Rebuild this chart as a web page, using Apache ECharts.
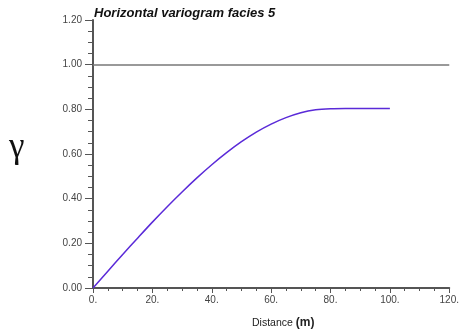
<!DOCTYPE html>
<html>
<head>
<meta charset="utf-8">
<script src="https://cdn.jsdelivr.net/npm/echarts@6/dist/echarts.min.js"></script>
<style>
  html, body { margin: 0; padding: 0; background: #fff; }
  #chart { width: 462px; height: 335px; }
</style>
</head>
<body>
<div id="chart"></div>
<script>
// Lag distances (m) and the modelled semivariance at each lag
const distance = [0, 5, 10, 15, 20, 25, 30, 35, 40, 45, 50, 55, 60, 65, 70, 75, 80, 85, 90, 95, 100];
const gammaValues = [0.000, 0.075, 0.150, 0.223, 0.295, 0.364, 0.430, 0.493, 0.552, 0.606, 0.655, 0.698, 0.734, 0.763, 0.785, 0.798, 0.803, 0.804, 0.804, 0.804, 0.804];
// Reference sill line
const sill = 1.0;
const titleText = 'Horizontal variogram facies 5';

const chart = echarts.init(document.getElementById('chart'), null, { renderer: 'canvas' });

const seriesData = distance.map((d, i) => [d, gammaValues[i]]);
const labelFont = 'Liberation Sans, Arial, Helvetica, sans-serif';

chart.setOption({
  animation: false,
  backgroundColor: '#ffffff',
  grid: { left: 93, right: 9, top: 20, bottom: 47, containLabel: false },
  title: {
    text: titleText,
    left: 89, top: 2,
    textStyle: { fontFamily: labelFont, fontSize: 13, fontWeight: 'bold', fontStyle: 'italic', color: '#111' }
  },
  xAxis: {
    type: 'value', min: 0, max: 120, interval: 20,
    axisLine: { show: true, lineStyle: { color: '#555', width: 2 } },
    axisTick: { show: true, length: 5, lineStyle: { color: '#555', width: 1 } },
    minorTick: { show: true, splitNumber: 4, length: 3, lineStyle: { color: '#555', width: 1 } },
    splitLine: { show: false },
    axisLabel: {
      margin: 7, fontSize: 10, color: '#444', fontFamily: labelFont,
      formatter: v => v.toFixed(0) + '.'
    }
  },
  yAxis: {
    type: 'value', min: 0, max: 1.2, interval: 0.2,
    axisLine: { show: true, lineStyle: { color: '#555', width: 2 } },
    axisTick: { show: true, length: 8, lineStyle: { color: '#555', width: 1 } },
    minorTick: { show: true, splitNumber: 4, length: 5, lineStyle: { color: '#555', width: 1 } },
    splitLine: { show: false },
    axisLabel: {
      margin: 11, fontSize: 10, color: '#444', fontFamily: labelFont,
      padding: [0, 0, 6, 0],
      formatter: v => v.toFixed(2)
    }
  },
  graphic: [
    {
      type: 'text', left: 9, top: 130,
      style: { text: 'γ', fontSize: 35, fontFamily: 'Liberation Serif, Times New Roman, serif', fill: '#111' }
    },
    {
      type: 'text', left: 252, top: 317,
      style: {
        text: '{a|Distance }{b|(m)}',
        rich: {
          a: { fontSize: 10.5, fontFamily: labelFont, fill: '#222' },
          b: { fontSize: 12, fontWeight: 'bold', fontFamily: labelFont, fill: '#222' }
        }
      }
    }
  ],
  series: [
    {
      type: 'line',
      data: seriesData,
      showSymbol: false,
      smooth: 0.3,
      lineStyle: { color: '#5a2ad8', width: 1.5 },
      markLine: {
        silent: true,
        symbol: 'none',
        label: { show: false },
        lineStyle: { color: '#777', width: 1.5, type: 'solid' },
        data: [{ yAxis: sill }]
      }
    }
  ]
});
</script>
</body>
</html>
